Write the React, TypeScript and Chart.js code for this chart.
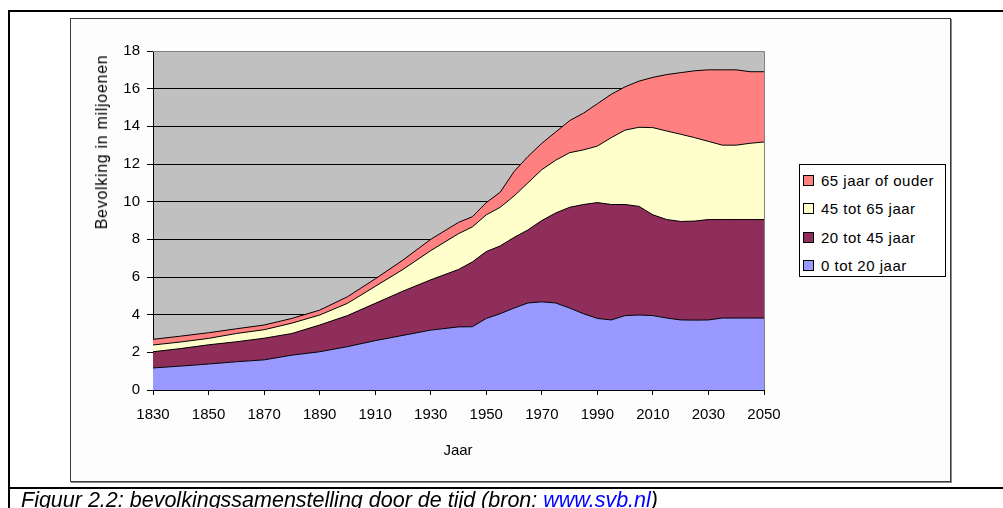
import React, { useEffect, useRef } from "react";
import { Chart, registerables } from "chart.js";

Chart.register(...registerables);

// ---- data (millions of inhabitants per age group) ----
const YEARS = [
  1830, 1840, 1850, 1860, 1870, 1880, 1890, 1900, 1910, 1920, 1930, 1940, 1945,
  1950, 1955, 1960, 1965, 1970, 1975, 1980, 1985, 1990, 1995, 2000, 2005, 2010,
  2015, 2020, 2025, 2030, 2035, 2040, 2045, 2050,
];
const AGE_0_20 = [
  1.17, 1.27, 1.38, 1.5, 1.6, 1.85, 2.03, 2.3, 2.62, 2.9, 3.18, 3.35, 3.36,
  3.8, 4.05, 4.35, 4.62, 4.68, 4.62, 4.35, 4.05, 3.8, 3.72, 3.95, 3.98, 3.95,
  3.82, 3.72, 3.71, 3.72, 3.82, 3.82, 3.82, 3.82,
];
const AGE_20_45 = [
  0.86, 0.93, 1.02, 1.06, 1.15, 1.15, 1.42, 1.65, 1.98, 2.35, 2.67, 3.05, 3.44,
  3.55, 3.6, 3.75, 3.88, 4.32, 4.78, 5.35, 5.8, 6.15, 6.13, 5.9, 5.77, 5.35,
  5.23, 5.23, 5.26, 5.33, 5.23, 5.23, 5.23, 5.23,
];
const AGE_45_65 = [
  0.36, 0.35, 0.34, 0.44, 0.45, 0.55, 0.53, 0.65, 0.9, 1.15, 1.55, 1.9, 1.86,
  1.95, 2.05, 2.2, 2.5, 2.7, 2.8, 2.9, 2.9, 3.0, 3.55, 3.95, 4.2, 4.63,
  4.7, 4.63, 4.43, 4.15, 3.95, 3.95, 4.05, 4.12,
];
const AGE_65_PLUS = [
  0.3, 0.31, 0.3, 0.25, 0.25, 0.25, 0.26, 0.35, 0.4, 0.5, 0.6, 0.6, 0.54,
  0.65, 0.8, 1.3, 1.4, 1.4, 1.5, 1.7, 1.95, 2.25, 2.3, 2.3, 2.45, 2.67,
  3.0, 3.27, 3.55, 3.8, 4.0, 4.0, 3.8, 3.73,
];
const SERIES_LABELS = ["0 tot 20 jaar", "20 tot 45 jaar", "45 tot 65 jaar", "65 jaar of ouder"];
const SERIES_COLORS = ["#9999FF", "#8F2D5B", "#FFFFCC", "#FF8080"];
const X_TICKS = [1830, 1850, 1870, 1890, 1910, 1930, 1950, 1970, 1990, 2010, 2030, 2050];
const Y_MIN = 0;
const Y_MAX = 18;
const Y_STEP = 2;
const Y_TITLE = "Bevolking in miljoenen";
const X_TITLE = "Jaar";
const CAPTION = "Figuur 2.2: bevolkingssamenstelling door de tijd (bron: ";
const CAPTION_LINK = "www.svb.nl";

const FONT = '"Liberation Sans", Arial, Helvetica, sans-serif';

const plotBg = {
  id: "plotBg",
  beforeDraw(chart: any) {
    const { ctx, chartArea } = chart;
    if (!chartArea) return;
    ctx.save();
    ctx.fillStyle = "#C0C0C0";
    ctx.fillRect(chartArea.left, chartArea.top, chartArea.right - chartArea.left, chartArea.bottom - chartArea.top);
    ctx.restore();
  },
  afterDatasetsDraw(chart: any) {
    const { ctx, chartArea } = chart;
    ctx.save();
    ctx.strokeStyle = "#808080";
    ctx.lineWidth = 1;
    ctx.beginPath();
    ctx.moveTo(chartArea.left, chartArea.top + 0.5);
    ctx.lineTo(chartArea.right + 0.5, chartArea.top + 0.5);
    ctx.lineTo(chartArea.right + 0.5, chartArea.bottom);
    ctx.stroke();
    ctx.restore();
  },
};

export default function App() {
  const canvasRef = useRef<HTMLCanvasElement | null>(null);

  useEffect(() => {
    const canvas = canvasRef.current;
    if (!canvas) return;
    const series = [AGE_0_20, AGE_20_45, AGE_45_65, AGE_65_PLUS];
    const chart = new Chart(canvas, {
      type: "line",
      data: {
        datasets: series.map((vals, si) => ({
          label: SERIES_LABELS[si],
          data: YEARS.map((x, i) => ({ x, y: vals[i] })),
          backgroundColor: SERIES_COLORS[si],
          borderColor: "#000000",
          borderWidth: 1,
          pointRadius: 0,
          tension: 0,
          fill: si === 0 ? "origin" : "-1",
        })),
      },
      options: {
        animation: false,
        responsive: false,
        events: [],
        layout: { padding: { left: 70, right: 239, top: 51, bottom: 78 } },
        plugins: { legend: { display: false }, tooltip: { enabled: false } },
        scales: {
          x: {
            type: "linear",
            min: X_TICKS[0],
            max: X_TICKS[X_TICKS.length - 1],
            afterBuildTicks: (s: any) => {
              s.ticks = X_TICKS.map((v) => ({ value: v }));
            },
            afterFit: (s: any) => {
              s.height = 40;
            },
            ticks: {
              color: "#000",
              font: { family: FONT, size: 15 },
              padding: 11,
              maxRotation: 0,
              autoSkip: false,
              callback: (v: any) => String(v),
            },
            grid: { drawOnChartArea: false, tickLength: 5, color: "#000", tickColor: "#000" },
            border: { color: "#000", width: 1 },
          },
          y: {
            stacked: true,
            min: Y_MIN,
            max: Y_MAX,
            afterFit: (s: any) => {
              s.width = 83;
            },
            ticks: {
              stepSize: Y_STEP,
              color: "#000",
              font: { family: FONT, size: 15 },
              padding: 7,
            },
            grid: {
              tickLength: 6,
              color: (c: any) => (c.tick && c.tick.value === Y_MAX ? "#808080" : "#000"),
              tickColor: "#000",
            },
            border: { color: "#000", width: 1 },
          },
        },
      },
      plugins: [plotBg],
    });
    return () => chart.destroy();
  }, []);

  const legendRows = [3, 2, 1, 0];

  return (
    <div
      style={{
        position: "absolute",
        left: 0,
        top: 0,
        width: 1003,
        height: 508,
        overflow: "hidden",
        background: "#fff",
        fontFamily: FONT,
      }}
    >
      {/* page frame lines */}
      <div style={{ position: "absolute", left: 8, top: 10, width: 995, height: 2, background: "#000" }} />
      <div style={{ position: "absolute", left: 8, top: 10, width: 2, height: 498, background: "#000" }} />
      <div style={{ position: "absolute", left: 8, top: 487, width: 995, height: 2, background: "#000" }} />
      {/* chart frame */}
      <div
        style={{
          position: "absolute",
          left: 70,
          top: 18,
          width: 879,
          height: 462,
          border: "1px solid #3a3a3a",
          boxShadow: "1px 1px 0 #8a8a8a",
          background: "#fdfdfd",
        }}
      />
      <canvas
        ref={canvasRef}
        width={1003}
        height={508}
        style={{ position: "absolute", left: 0, top: 0, width: 1003, height: 508 }}
      />
      {/* axis titles */}
      <div
        style={{
          position: "absolute",
          left: 102,
          top: 142,
          transform: "translate(-50%, -50%) rotate(-90deg)",
          whiteSpace: "nowrap",
          fontSize: 16,
          letterSpacing: 0.7,
          color: "#000",
        }}
      >
        {Y_TITLE}
      </div>
      <div
        style={{
          position: "absolute",
          left: 458,
          top: 449,
          transform: "translate(-50%, -50%)",
          whiteSpace: "nowrap",
          fontSize: 15,
          color: "#000",
        }}
      >
        {X_TITLE}
      </div>
      {/* legend */}
      <div
        style={{
          position: "absolute",
          left: 799,
          top: 164,
          width: 145,
          height: 111,
          border: "1px solid #000",
          background: "#fff",
        }}
      >
        {legendRows.map((si, r) => (
          <div
            key={si}
            style={{
              position: "absolute",
              left: 3,
              top: 6 + r * 28.5,
              height: 18,
              display: "flex",
              alignItems: "center",
              whiteSpace: "nowrap",
              fontSize: 15,
              letterSpacing: 0.5,
              color: "#000",
            }}
          >
            <span
              style={{
                display: "inline-block",
                width: 9,
                height: 9,
                border: "1px solid #000",
                background: SERIES_COLORS[si],
                marginRight: 7,
              }}
            />
            {SERIES_LABELS[si]}
          </div>
        ))}
      </div>
      {/* caption */}
      <div
        style={{
          position: "absolute",
          left: 21,
          top: 490,
          fontSize: 21.5,
          lineHeight: "21px",
          fontStyle: "italic",
          whiteSpace: "nowrap",
          color: "#000",
        }}
      >
        {CAPTION}
        <span style={{ color: "#0000FF", textDecoration: "underline" }}>{CAPTION_LINK}</span>)
      </div>
    </div>
  );
}
